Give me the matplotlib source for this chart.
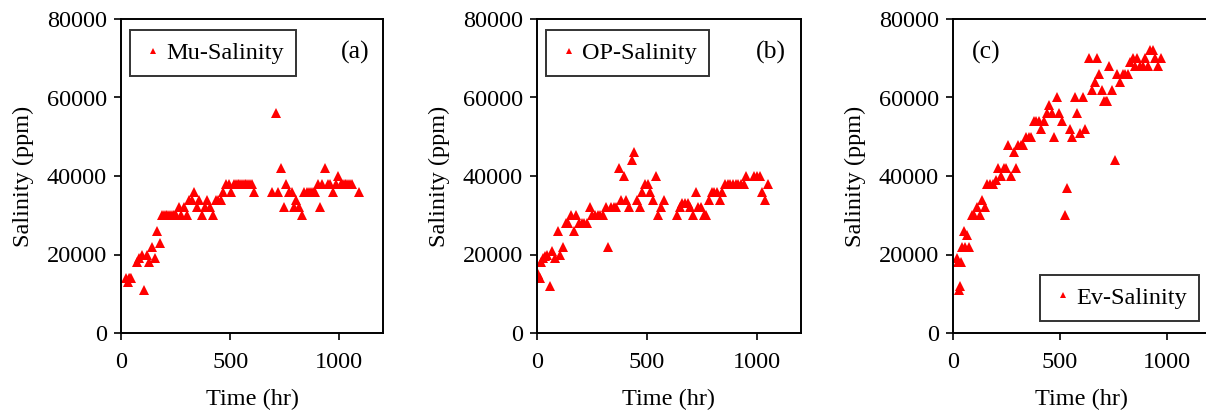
import matplotlib
matplotlib.use("Agg")
import matplotlib.pyplot as plt

plt.rcParams['font.family'] = ['Liberation Serif', 'DejaVu Serif']

# Panel (a): Mu-Salinity
mu_time = [25, 30, 35, 40, 45, 72, 84, 96, 106, 118, 130, 142, 154, 167, 179,
           188, 196, 204, 212, 220, 228, 236, 244, 252,
           265, 277, 289, 301, 310, 323, 335, 347, 359, 372, 384, 396, 408, 420,
           433, 445, 457, 469, 482, 494, 506,
           518, 526, 534, 542, 550, 558, 566, 574, 582, 590, 598, 610,
           693, 708, 720, 732, 745, 757, 769, 781, 791, 803, 815, 827,
           839, 852, 861, 870, 879, 888, 901, 910, 922, 934, 946, 959, 971, 983, 995,
           1008, 1016, 1024, 1032, 1040, 1049, 1057, 1090]
mu_sal = [14000, 13000, 14000, 14000, 14000, 18000, 19000, 20000, 11000, 20000, 18000, 22000, 19000, 26000, 23000,
          30000, 30000, 30000, 30000, 30000, 30000, 30000, 30000, 30000,
          32000, 30000, 32000, 30000, 34000, 34000, 36000, 32000, 34000, 30000, 32000, 34000, 32000, 30000,
          34000, 34000, 34000, 36000, 38000, 38000, 36000,
          38000, 38000, 38000, 38000, 38000, 38000, 38000, 38000, 38000, 38000, 38000, 36000,
          36000, 56000, 36000, 42000, 32000, 38000, 36000, 36000, 32000, 34000, 32000, 30000,
          36000, 36000, 36000, 36000, 36000, 36000, 38000, 32000, 38000, 42000, 38000, 38000, 36000, 38000, 40000,
          38000, 38000, 38000, 38000, 38000, 38000, 38000, 36000]

# Panel (b): OP-Salinity
op_time = [3, 6, 10, 14, 18, 27, 36, 45, 58, 70, 82, 94, 106, 118, 130, 142, 155, 167, 179,
           191, 203, 215, 227, 239, 252, 264, 276, 288, 300, 312, 324, 336, 348, 361,
           373, 382, 394, 406, 418, 430, 442, 455, 467, 479, 491, 503, 515, 527, 539,
           552, 564, 576,
           636, 648, 661, 673, 685, 697, 709, 721, 733, 745, 758, 770, 782, 794, 806, 818,
           830, 842, 855, 867, 879, 891, 903, 915, 927, 939, 952, 988, 1000, 1012, 1024, 1036, 1048]
op_sal = [15000, 14000, 14000, 14000, 18000, 19000, 19500, 20000, 12000, 21000, 19000, 26000, 20000, 22000, 28000, 28000, 30000, 26000, 30000,
          28000, 28000, 28000, 28000, 32000, 30000, 30000, 30000, 30000, 30000, 32000, 22000, 32000, 32000, 32000,
          42000, 34000, 40000, 34000, 32000, 44000, 46000, 34000, 32000, 36000, 38000, 38000, 36000, 34000, 40000,
          30000, 32000, 34000,
          30000, 32000, 33000, 33000, 33000, 32000, 30000, 36000, 32000, 32000, 30000, 30000, 34000, 36000, 36000, 36000,
          34000, 36000, 38000, 38000, 38000, 38000, 38000, 38000, 38000, 38000, 40000, 40000, 40000, 40000, 36000, 34000, 38000]

# Panel (c): Ev-Salinity
ev_time = [19, 25, 37, 28, 34, 43, 50, 56, 65, 75, 87, 99, 112, 124, 137, 149, 161, 174, 186, 199,
           211, 224, 236, 248, 258, 270, 283, 295, 304, 317, 329, 342, 354, 366, 376, 388, 401, 413,
           426, 438, 450, 463, 472, 485, 497, 509, 522, 534, 547, 556, 568, 581, 593, 606, 618,
           637, 649, 662, 671, 683, 696, 705, 715, 721, 730, 742, 755, 767, 780, 792, 804, 817,
           826, 839, 848, 860, 873, 885, 898, 910, 922, 935, 944, 957, 969]
ev_sal = [19000, 18000, 18000, 11000, 12000, 22000, 26000, 22000, 25000, 22000, 30000, 30000, 32000, 30000, 34000, 32000, 38000, 38000, 38000, 39000,
          42000, 40000, 42000, 42000, 48000, 40000, 46000, 42000, 48000, 48000, 48000, 50000, 50000, 50000, 54000, 54000, 54000, 52000,
          54000, 56000, 58000, 56000, 50000, 60000, 56000, 54000, 30000, 37000, 52000, 50000, 60000, 56000, 51000, 60000, 52000,
          70000, 62000, 64000, 70000, 66000, 62000, 59000, 59000, 59000, 68000, 62000, 44000, 66000, 64000, 66000, 66000, 66000,
          69000, 70000, 68000, 70000, 68000, 68000, 70000, 68000, 72000, 72000, 70000, 68000, 70000]

W, H = 1206, 413
fig = plt.figure(figsize=(W / 100, H / 100), dpi=100)

panels = [
    (121, 383, mu_time, mu_sal, 'Mu-Salinity', '(a)', (0.893, 0.895), 'upper left', (130, 30)),
    (537, 801, op_time, op_sal, 'OP-Salinity', '(b)', (0.886, 0.895), 'upper left', (546, 30)),
    (953, 1210, ev_time, ev_sal, 'Ev-Salinity', '(c)', (0.128, 0.895), 'lower right', (1199, 321)),
]
top, bottom = 19, 333
for left, right, t, s, lab, tag, tagpos, loc, anchor in panels:
    ax = fig.add_axes([left / W, (H - bottom) / H, (right - left) / W, (bottom - top) / H])
    ax.plot(t, s, linestyle='none', marker='^', color='#ff0000', markersize=7,
            markeredgewidth=0, label=lab)
    ax.set_xlim(0, 1200)
    ax.set_ylim(0, 80000)
    ax.set_xticks([0, 500, 1000])
    ax.set_yticks([0, 20000, 40000, 60000, 80000])
    ax.tick_params(direction='out', length=5, width=1.2, labelsize=17.5, colors='black')
    ax.tick_params(axis='x', pad=9)
    ax.tick_params(axis='y', pad=5)
    for sp in ax.spines.values():
        sp.set_linewidth(1.4)
        sp.set_color('black')
    ax.set_xlabel('Time (hr)', fontsize=17.5, labelpad=11)
    ax.set_ylabel('Salinity (ppm)', fontsize=17.5, labelpad=9)
    ax.text(tagpos[0], tagpos[1], tag, transform=ax.transAxes, fontsize=18.5,
            ha='center', va='center')
    bx = (anchor[0] - left) / (right - left)
    by = (bottom - anchor[1]) / (bottom - top)
    leg = ax.legend(loc=loc, bbox_to_anchor=(bx, by), fontsize=17.5, frameon=True,
                    fancybox=False, edgecolor='black', borderaxespad=0,
                    handlelength=0.9, handletextpad=0.1, borderpad=0.5,
                    markerscale=0.7)
    leg.get_frame().set_linewidth(1.4)

fig.savefig('out.png', dpi=100)
